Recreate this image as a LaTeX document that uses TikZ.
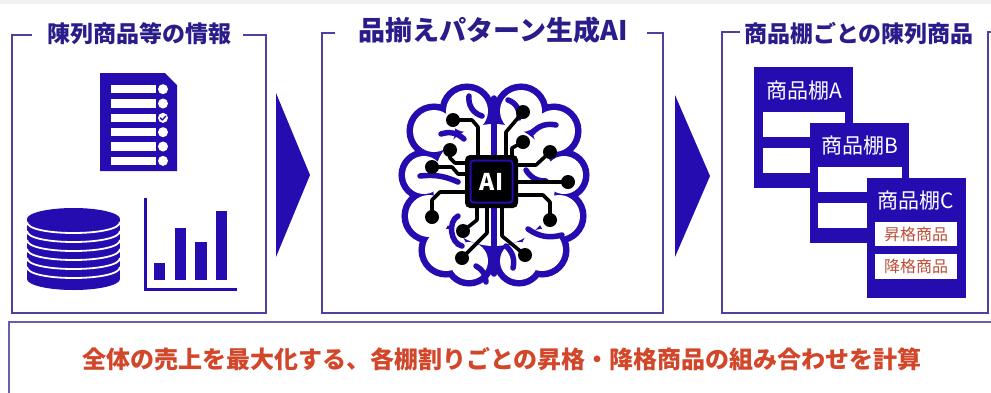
\documentclass[tikz,border=0pt]{standalone}
\usepackage{fontspec}
\newfontfamily\jp{Noto Sans CJK JP}
\definecolor{ink}{RGB}{36,12,176}
\definecolor{framec}{RGB}{78,64,158}
\definecolor{titlec}{RGB}{42,28,138}
\definecolor{redc}{RGB}{210,70,42}
\definecolor{labred}{RGB}{188,78,58}
\definecolor{topgray}{RGB}{240,240,240}
\tikzset{
  frameline/.style={draw=framec, line width=1.8pt},
  paneltitle/.style={inner sep=0pt, text=titlec, font=\jp\bfseries\fontsize{23pt}{26pt}\selectfont},
  shelfbox/.style={fill=ink},
  slot/.style={fill=white},
  shelflabel/.style={inner sep=0pt, text=white, font=\jp\fontsize{21pt}{24pt}\selectfont},
  slotlabel/.style={inner sep=0pt, text=labred, font=\jp\fontsize{16pt}{18pt}\selectfont},
  trace/.style={draw=black, line width=3.6pt, line join=round, line cap=round},
  fold/.style={draw=ink, line width=5.5pt, line cap=round},
}
\begin{document}
\begin{tikzpicture}[x=1pt,y=-1pt]
\useasboundingbox (0,0) rectangle (991,392);
\clip (0,0) rectangle (991,392);
\fill[white] (0,0) rectangle (991,392);
\fill[topgray] (0,0) rectangle (991,4);

% ---------- panel titles and bracket frames ----------
\node[paneltitle] (t1) at (139,34) {陳列商品等の情報};
\node[paneltitle, font=\jp\bfseries\fontsize{27pt}{30pt}\selectfont] (t2) at (493,30) {品揃えパターン生成AI};
\node[paneltitle] (t3) at (859,34) {商品棚ごとの陳列商品};

\draw[frameline] (32,35) -- (12,35) -- (12,313) -- (266,313) -- (266,35) -- (243,35);
\draw[frameline] (335,33) -- (322,33) -- (322,313) -- (663,313) -- (663,33) -- (647,33);
\draw[frameline] (740,32) -- (722,32) -- (722,313) -- (988,313) -- (988,32) -- (995,32);

% ---------- flow arrows ----------
\fill[ink] (276,93) -- (310,175) -- (276,257) -- cycle;
\fill[ink] (675,95) -- (710,176) -- (675,257) -- cycle;

% ---------- checklist document ----------
\fill[ink] (100,73) -- (165,73) -- (177,85) -- (177,171) -- (100,171) -- cycle;
\foreach \k in {0,...,5}{
  \fill[white] (111,{85+14.33*\k}) rectangle (156,{93.3+14.33*\k});
  \fill[white] (163,{89.2+14.33*\k}) circle[radius=5];
}
\draw[ink, line width=1.3pt, line cap=round, line join=round] (160.3,117.9) -- (162.3,120) -- (165.8,116);

% ---------- database cylinder ----------
\fill[ink] (27,219) rectangle (120,279);
\fill[ink] (73.5,279) ellipse[x radius=46.5, y radius=11];
\fill[ink] (73.5,219) ellipse[x radius=46.5, y radius=11];
\foreach \c in {222,231,240,249,258,267}{
  \draw[white, line width=1.8pt] (27,\c) .. controls (27,\c+14.67) and (120,\c+14.67) .. (120,\c);
}

% ---------- bar chart ----------
\draw[ink, line width=3pt] (145,198) -- (145,289) -- (237,289);
\fill[ink] (154,263) rectangle (165,280);
\fill[ink] (175,228) rectangle (186,280);
\fill[ink] (195,242) rectangle (207,280);
\fill[ink] (216,211) rectangle (227,280);

% ---------- brain outline (union of lobes) ----------
\def\lobes{467/111/21, 434/131/21, 424/175/19, 429/216/21, 446/250/21, 469/261/19,
           521/111/21, 554/131/21, 564/175/19, 559/216/21, 542/250/21, 519/261/19,
           494/185/61}
\foreach \cx/\cy/\r in \lobes{ \draw[ink, line width=13pt] (\cx,\cy) circle[radius=\r]; }
\foreach \cx/\cy/\r in \lobes{ \fill[white] (\cx,\cy) circle[radius=\r]; }
% central fissure
\draw[fold] (494,98) -- (494,160);
\draw[fold] (494,205) -- (494,274);
% cortical folds
\draw[fold] (469,96) to[bend right=40] (482,116);
\draw[fold] (441,134) to[bend left=30] (464,139);
\draw[fold] (420,176) to[bend left=15] (458,182);
\draw[fold] (458,216) to[bend right=70] (462,246);
\draw[fold] (508,100) to[bend left=40] (519,118);
\draw[fold] (532,133) to[bend left=30] (556,125);
\draw[fold] (526,170) to[bend right=30] (546,181);
\draw[fold] (528,229) to[bend right=25] (562,235);
\draw[fold] (506,246) to[bend left=30] (513,268);
\draw[fold] (476,266) to[bend left=30] (486,282);

% ---------- circuit traces ----------
\draw[trace] (453,120) -- (472,120) -- (478,127) -- (478,160);
\draw[trace] (450,150) -- (450,158) -- (455,163) -- (470,163);
\draw[trace] (432,167) -- (452,167) -- (458,174) -- (470,174);
\draw[trace] (470,192) -- (440,192) -- (432,200) -- (432,217);
\draw[trace] (477,203) -- (477,220) -- (463,231);
\draw[trace] (487,203) -- (487,233) -- (462,258);
\draw[trace] (523,112) -- (506,132) -- (506,160);
\draw[trace] (523,142) -- (512,148) -- (512,160);
\draw[trace] (550,152) -- (536,165) -- (513,165);
\draw[trace] (568,182) -- (513,182);
\draw[trace] (550,220) -- (550,202) -- (543,195) -- (513,195);
\draw[trace] (502,203) -- (502,236) -- (525,255);
\foreach \dx/\dy in {453/120, 450/150, 432/167, 432/217, 463/231, 462/258,
                     523/112, 523/142, 550/152, 568/182, 550/220, 525/255}{
  \fill[black] (\dx,\dy) circle[radius=7];
}

% ---------- AI chip ----------
\node[fill=black, rounded corners=5pt, minimum width=53pt, minimum height=53pt, inner sep=0pt,
      text=white, font=\jp\bfseries\fontsize{23pt}{25pt}\selectfont] (chip) at (491.5,181.5) {AI};
\draw[ink, line width=2pt, rounded corners=3pt] (470.5,160.5) rectangle (512.5,202.5);

% ---------- shelves ----------
\fill[shelfbox] (754,67) rectangle (853,188);
\fill[slot] (763,112) rectangle (845,137);
\fill[slot] (763,148) rectangle (845,173);
\node[shelflabel] (sa) at (804,91) {商品棚A};

\fill[shelfbox] (810,123) rectangle (909,243);
\fill[slot] (818,167) rectangle (902,192);
\fill[slot] (818,203) rectangle (902,228);
\node[shelflabel] (sb) at (860,146) {商品棚B};

\fill[shelfbox] (867,178) rectangle (966,298);
\fill[slot] (875,222) rectangle (957,246);
\fill[slot] (875,254) rectangle (957,279);
\node[shelflabel] (sc) at (916,201) {商品棚C};
\node[slotlabel] (up) at (916,234) {昇格商品};
\node[slotlabel] (down) at (916,266.5) {降格商品};

% ---------- summary box ----------
\draw[draw=framec!85, line width=1.8pt] (9,322) rectangle (1000,400);
\node[inner sep=0pt, text=redc, font=\jp\bfseries\fontsize{24pt}{27pt}\selectfont] (sum) at (502,359)
  {全体の売上を最大化する、各棚割りごとの昇格・降格商品の組み合わせを計算};
\end{tikzpicture}
\end{document}
